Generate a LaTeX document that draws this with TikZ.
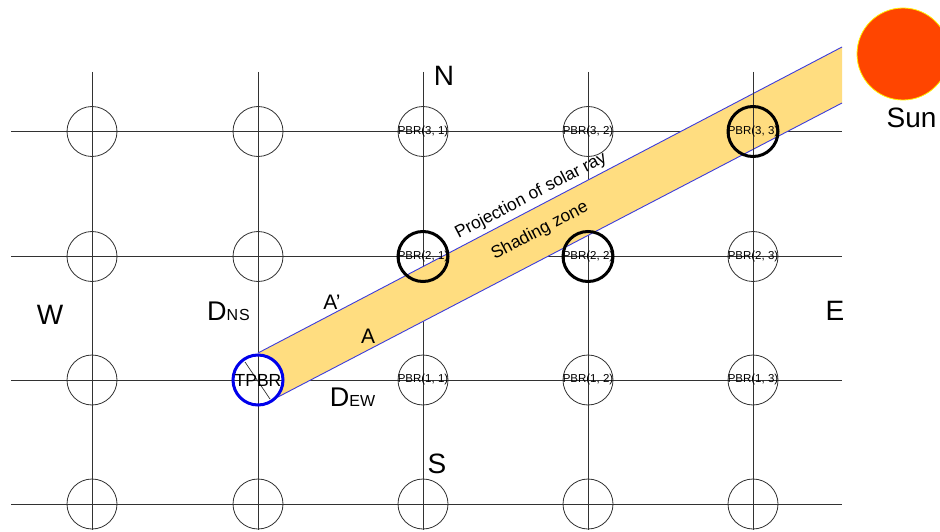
\documentclass[tikz,border=0pt]{standalone}
\usepackage{xcolor}
\usepackage{fontspec}
\setmainfont{Liberation Sans}
\usetikzlibrary{positioning}
\definecolor{zone}{RGB}{255,221,128}
\definecolor{ray}{RGB}{60,60,220}
\definecolor{sunc}{RGB}{255,69,0}
\definecolor{sunr}{RGB}{255,240,0}
\definecolor{tp}{RGB}{0,0,235}
\definecolor{gl}{RGB}{50,50,50}
\newcommand{\FS}[1]{\fontsize{#1}{#1}\selectfont}
\newcommand{\PB}[1]{\makebox[0pt]{\raisebox{-2pt}{#1}}}
\tikzset{
  gridline/.style={line width=1pt,draw=gl},
  cell/.style={circle,draw=gl,line width=0.8pt,minimum size=50pt,inner sep=0pt,font=\FS{11.5}},
  hitcell/.style={cell,draw=black,line width=3pt},
  bigtxt/.style={inner sep=0pt,font=\FS{28}},
  midtxt/.style={inner sep=0pt,font=\FS{21}},
  raytxt/.style={inner sep=0pt,font=\FS{17.4},rotate=27.6}
}

\begin{document}
\begin{tikzpicture}[x=1pt,y=-1pt]
  \useasboundingbox[fill=white] (0,0) rectangle (940,532);

  % grid
  \draw[gridline] (92,72) -- (92,530);
  \draw[gridline] (258,72) -- (258,530);
  \draw[gridline] (423,72) -- (423,530);
  \draw[gridline] (588,72) -- (588,530);
  \draw[gridline] (11,131.5) -- (842,131.5);
  \draw[gridline] (11,256.5) -- (842,256.5);
  \draw[gridline] (11,380) -- (842,380);
  \draw[gridline] (11,504) -- (842,504);

  % shading zone
  \fill[zone] (258,353) -- (842,47) -- (842,103) -- (278,397) -- cycle;
  \draw[ray,line width=0.9pt] (258,353) -- (842,47);
  \draw[ray,line width=0.9pt] (278,397) -- (842,103);
  \draw[gridline] (753,72) -- (753,530);

  % sun
  \fill[sunc,draw=sunr,line width=0.8pt] (903,54) circle (46);
  \node[bigtxt] (sun) at (911.5,118) {Sun};

  % plain cells
  \node[cell] (c51) at (92,131.5) {};
  \node[cell] (c52) at (258,131.5) {};
  \node[cell] (c41) at (92,256.5) {};
  \node[cell] (c42) at (258,256.5) {};
  \node[cell] (c31) at (92,380) {};
  \node[cell] (c11) at (92,504) {};
  \node[cell] (c12) at (258,504) {};
  \node[cell] (c13) at (423,504) {};
  \node[cell] (c14) at (588,504) {};
  \node[cell] (c15) at (753,504) {};

  % cells with labels
  \node[cell] (p31) at (423,131.5) {\PB{PBR(3, 1)}};
  \node[cell] (p32) at (588,131.5) {\PB{PBR(3, 2)}};
  \node[cell] (p23) at (753,256.5) {\PB{PBR(2, 3)}};
  \node[cell] (p11) at (423,380) {\PB{PBR(1, 1)}};
  \node[cell] (p12) at (588,380) {\PB{PBR(1, 2)}};
  \node[cell] (p13) at (753,380) {\PB{PBR(1, 3)}};

  % shaded cells
  \node[hitcell] (p33) at (753,131.5) {\PB{PBR(3, 3)}};
  \node[hitcell] (p21) at (423,256.5) {\PB{PBR(2, 1)}};
  \node[hitcell] (p22) at (588,256.5) {\PB{PBR(2, 2)}};

  % target cell
  \fill[white] (258,380) circle (25);
  \draw[gridline] (258,355) -- (258,405);
  \draw[gridline] (233,380) -- (283,380);
  \draw[gl,line width=0.7pt] (245,362) -- (270,399);
  \node[cell,draw=tp,line width=3pt,font=\FS{17.5}] (tpbr) at (258,380) {\PB{TPBR}};

  % labels
  \node[bigtxt] (north) at (444,76) {N};
  \node[bigtxt] (south) at (437,464) {S};
  \node[bigtxt] (west) at (50,315) {W};
  \node[bigtxt] (east) at (835,311) {E};
  \node[inner sep=0pt,font=\FS{27}] (dns) at (228.5,311) {D{\FS{16}N\kern1pt S}};
  \node[inner sep=0pt,font=\FS{27}] (dew) at (352.5,397) {D{\FS{16}EW}};
  \node[midtxt] (ap) at (332,302) {A'};
  \node[midtxt] (a) at (368,336) {A};
  \node[raytxt] (proj) at (531,196) {Projection of solar ray};
  \node[raytxt] (shade) at (540,231) {Shading zone};
\end{tikzpicture}
\end{document}
